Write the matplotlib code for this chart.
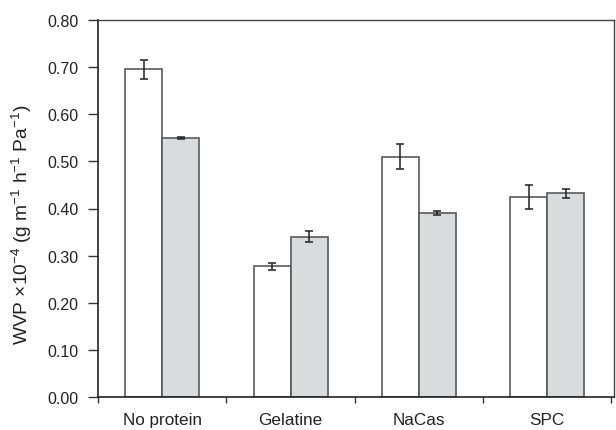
import matplotlib
matplotlib.use("Agg")
import matplotlib.pyplot as plt
import numpy as np

plt.rcParams['font.family'] = ['Liberation Sans', 'DejaVu Sans']
plt.rcParams['mathtext.fontset'] = 'custom'
plt.rcParams['mathtext.rm'] = 'Liberation Sans'

categories = ["No protein", "Gelatine", "NaCas", "SPC"]
white_vals = [0.695, 0.277, 0.510, 0.425]
white_err = [0.021, 0.007, 0.026, 0.025]
gray_vals = [0.549, 0.340, 0.391, 0.432]
gray_err = [0.002, 0.012, 0.004, 0.010]
yticks = [0.0, 0.1, 0.2, 0.3, 0.4, 0.5, 0.6, 0.7, 0.8]

fig = plt.figure(figsize=(6.16, 4.31), dpi=100)
ax = fig.add_axes([98/616, 33/431, (614-98)/616, (398-21)/431])

x = np.arange(len(categories))
w = 0.288
edge = '#5a5a5a'
ax.bar(x - w/2, white_vals, w, color='white', edgecolor=edge, linewidth=1.2, zorder=2)
ax.bar(x + w/2, gray_vals, w, color='#dadbdd', edgecolor=edge, linewidth=1.2, zorder=2)
ax.errorbar(x - w/2, white_vals, yerr=white_err, fmt='none', ecolor='#222222',
            elinewidth=1.1, capsize=3, capthick=1.1, zorder=3)
ax.errorbar(x + w/2, gray_vals, yerr=gray_err, fmt='none', ecolor='#222222',
            elinewidth=1.1, capsize=3, capthick=1.1, zorder=3)

ax.set_xlim(-0.5, len(categories) - 0.5 + 0.02)
ax.set_ylim(0, 0.8)
ax.set_yticks(yticks)
ax.set_yticklabels([f"{t:.2f}" for t in yticks], fontsize=11.5, color='#222222')
ax.set_xticks(np.arange(len(categories) + 1) - 0.5)
ax.set_xticklabels([])
ax.set_xticks(x, minor=True)
ax.set_xticklabels(categories, minor=True, fontsize=12.3, color='#222222')
ax.tick_params(axis='x', which='minor', length=0, pad=11)
ax.tick_params(axis='x', which='major', length=4.5, width=1, color='#333333', direction='out')
ax.tick_params(axis='y', length=7, width=1, color='#333333', direction='out', pad=7)

for s in ['left', 'bottom']:
    ax.spines[s].set_color('#222222')
    ax.spines[s].set_linewidth(1.2)
for s in ['top', 'right']:
    ax.spines[s].set_color('#444444')
    ax.spines[s].set_linewidth(1.0)

ax.set_ylabel(r"WVP $\mathregular{\times10^{-4}}$ (g m$\mathregular{^{-1}}$ h$\mathregular{^{-1}}$ Pa$\mathregular{^{-1}}$)",
              fontsize=13.8, color='#222222')
ax.yaxis.set_label_coords(-0.124, 0.459)

fig.savefig("out.png", dpi=100)
